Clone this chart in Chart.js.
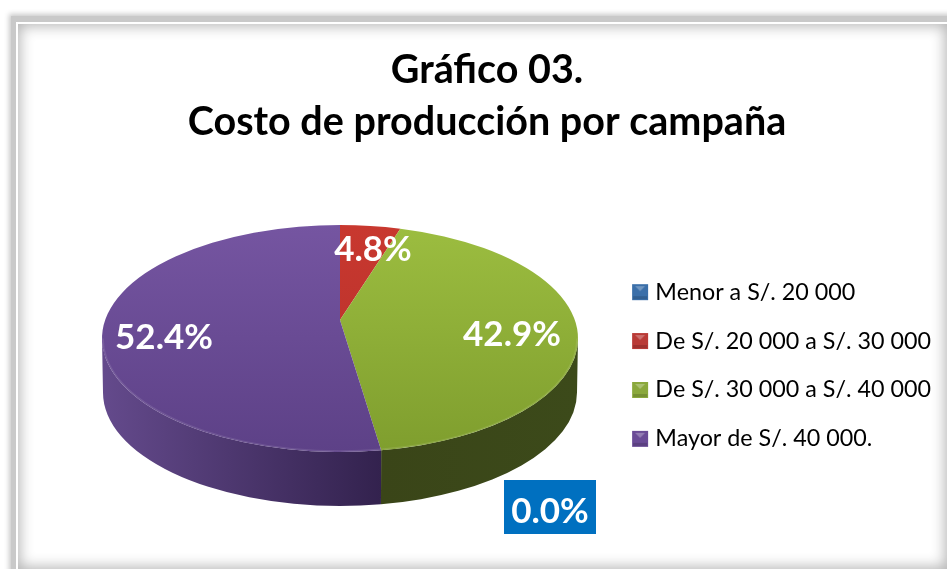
<!DOCTYPE html>
<html><head><meta charset="utf-8">
<style>
html,body{margin:0;padding:0;width:947px;height:569px;overflow:hidden;background:#fff}
#band{position:absolute;left:11px;top:16px;width:1000px;height:640px;background:#c9c9c9;box-shadow:0 0 5px 2px #c9c9c9}
#inner{position:absolute;left:16px;top:22px;width:929px;height:545px;background:#fff;border-left:2px solid #fff;border-top:2px solid #fff}
#shade{position:absolute;left:18px;top:24px;width:929px;height:545px;box-shadow:inset 0 0 14px 2px #b4b4b4}
canvas{position:absolute;left:0;top:0}
</style>
<script src="https://cdn.jsdelivr.net/npm/chart.js@4"></script>
</head><body>
<div id="band"></div><div id="inner"></div><div id="shade"></div>
<canvas id="c" width="947" height="569"></canvas>
<script>
const titleLines = ['Gráfico 03.', 'Costo de producción por campaña'];
const categories = ['Menor a S/. 20 000', 'De S/. 20 000 a S/. 30 000', 'De S/. 30 000 a S/. 40 000', 'Mayor de S/. 40 000.'];
const percentages = [0.0, 4.8, 42.9, 52.4];
const baseColors = ['#3b6fa9', '#b93a36', '#8aa83c', '#6a4b96'];

// Appearance of the tilted pie
const disc = {cx: 340, cy: 338.5, rx: 238, ry: 113.5, depth: 54, apexY: 320};
const faceTop = ['#4a80bd', '#c8382f', '#9cbd40', '#7555a1'];
const faceBottom = ['#3b6fa9', '#b5302a', '#7f9e2e', '#5d4187'];
const wallLeft = ['#2d5580', '#7a2622', '#3c4a1a', '#644a8c'];
const wallRight = ['#2d5580', '#7a2622', '#3a4518', '#33224e'];
const labelCenters = [[550, 507], [373, 250], [512, 335], [164, 338]];
const zeroBox = {x: 504, y: 480, w: 92, h: 54, color: '#0070C0'};
const legendShift = 61;

function marker(color) {
  const m = document.createElement('canvas'); m.width = 34; m.height = 18;
  const g = m.getContext('2d');
  g.translate(16, 0);
  g.filter = 'blur(0.6px)';
  g.fillStyle = color; g.fillRect(1, 1, 16, 16);
  g.filter = 'none';
  g.fillStyle = 'rgba(255,255,255,.28)';
  g.beginPath(); g.moveTo(4, 3); g.lineTo(14, 3); g.lineTo(9, 8); g.closePath(); g.fill();
  g.fillStyle = 'rgba(0,0,0,.14)'; g.fillRect(2, 13, 14, 3);
  return m;
}
const markers = baseColors.map(marker);

// Perspective: the disc centre appears above the middle of the ellipse, so angles are re-projected.
function projected(angle) {
  const s = (disc.apexY - disc.cy) / disc.ry, u = Math.cos(angle), v = Math.sin(angle), w = 1 + s * v;
  const a = Math.atan2((v + s) / w, u * Math.sqrt(1 - s * s) / w);
  return angle > Math.PI && a < 0 ? a + Math.PI * 2 : a;
}

const tiltedPie = {
  id: 'tiltedPie',
  afterLayout(chart) { chart.legend.top += legendShift; chart.legend.bottom += legendShift; },
  beforeDatasetDraw(chart, args) {
    const ctx = chart.ctx, d = disc;
    const arcs = chart.getDatasetMeta(args.index).data;
    const visible = arcs.map((a, i) => ({s: projected(a.startAngle), e: projected(a.endAngle), len: a.endAngle - a.startAngle, i})).filter(o => o.len > 0);
    ctx.save();
    visible.forEach(({s: s0, e: e0, i}) => {
      const s = Math.max(s0, 0), e = Math.min(e0, Math.PI);
      if (e <= s) return;
      const g = ctx.createLinearGradient(d.cx + d.rx * Math.cos(i === 3 ? e : s), 0, d.cx + d.rx * Math.cos(i === 3 ? s : e), 0);
      g.addColorStop(0, wallLeft[i]); g.addColorStop(1, wallRight[i]);
      ctx.fillStyle = g;
      ctx.beginPath();
      ctx.ellipse(d.cx, d.cy, d.rx, d.ry, 0, s, e);
      ctx.ellipse(d.cx, d.cy + d.depth, d.rx - 1, d.ry, 0, e, s, true);
      ctx.closePath(); ctx.fill();
    });
    visible.forEach(({s, e, i}) => {
      const g = ctx.createLinearGradient(0, d.cy - d.ry, 0, d.cy + d.ry);
      g.addColorStop(0, faceTop[i]); g.addColorStop(1, faceBottom[i]);
      ctx.fillStyle = g;
      ctx.beginPath();
      ctx.moveTo(d.cx, d.apexY);
      ctx.ellipse(d.cx, d.cy, d.rx, d.ry, 0, s, e);
      ctx.closePath(); ctx.fill();
      const rs = Math.max(s, 0), re = Math.min(e, Math.PI);
      if (re > rs) {
        ctx.strokeStyle = 'rgba(255,255,255,.1)'; ctx.lineWidth = 1.5;
        ctx.beginPath();
        ctx.ellipse(d.cx, d.cy, d.rx - 1, d.ry - 1, 0, rs, re);
        ctx.stroke();
      }
    });
    ctx.restore();
    return false;
  },
  afterDatasetsDraw(chart) {
    const ctx = chart.ctx;
    ctx.save();
    ctx.font = 'bold 35px Lato';
    ctx.textAlign = 'center'; ctx.textBaseline = 'middle';
    percentages.forEach((v, i) => {
      if (v === 0) { ctx.fillStyle = zeroBox.color; ctx.fillRect(zeroBox.x, zeroBox.y, zeroBox.w, zeroBox.h); }
      ctx.fillStyle = '#fff';
      ctx.fillText(v.toFixed(1) + '%', labelCenters[i][0], labelCenters[i][1] + (v === 0 ? 5 : 0));
    });
    ctx.restore();
  }
};

new Chart(document.getElementById('c'), {
  type: 'pie',
  data: {labels: categories, datasets: [{data: percentages, backgroundColor: baseColors, borderWidth: 0}]},
  plugins: [tiltedPie],
  options: {
    responsive: false, animation: false, devicePixelRatio: 1,
    layout: {padding: {left: 33, right: 6, top: 44, bottom: 4}},
    plugins: {
      tooltip: {enabled: false},
      title: {display: true, text: titleLines, color: '#000', font: {family: 'Lato', size: 39.5, weight: 'bold', lineHeight: 1.316}, padding: {top: 0, bottom: 10}},
      legend: {
        position: 'right',
        labels: {
          color: '#000', font: {family: 'Lato', size: 23.3}, usePointStyle: true, boxHeight: 18, padding: 25.6,
          generateLabels: () => categories.map((text, i) => ({text, pointStyle: markers[i], fillStyle: baseColors[i], strokeStyle: baseColors[i], lineWidth: 0, index: i, hidden: false}))
        }
      }
    }
  }
});
</script>
</body></html>
